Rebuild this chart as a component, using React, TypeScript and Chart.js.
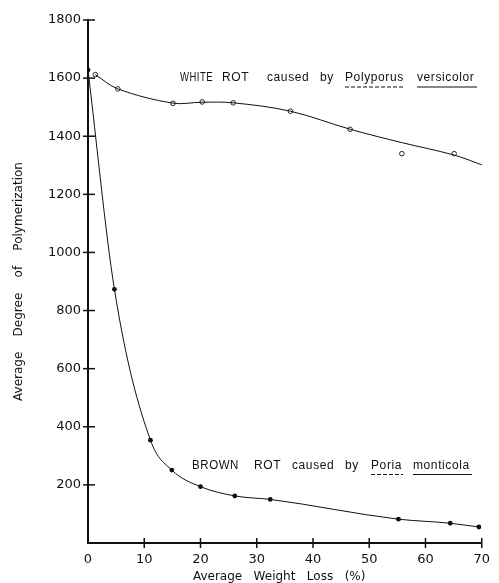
import React, { useEffect, useRef } from "react";
import { Chart, registerables } from "chart.js";

Chart.register(...registerables);

// ---- data ----
const xTickValues = [0, 10, 20, 30, 40, 50, 60, 70];
const yTickValues = [200, 400, 600, 800, 1000, 1200, 1400, 1600, 1800];

// White rot (Polyporus versicolor) - measured points (open circles)
const whiteLossPct = [1.3, 5.3, 15.1, 20.3, 25.8, 36.0, 46.6, 55.8, 65.1];
const whiteDP = [1612, 1563, 1513, 1518, 1515, 1486, 1424, 1340, 1340];

// White rot - fitted curve as drawn in the figure
const whiteCurveLossPct = [1.3, 5.3, 15.1, 20.3, 25.8, 36.0, 46.6, 55.8, 65.1, 70.5];
const whiteCurveDP = [1612, 1563, 1514, 1517, 1515, 1486, 1424, 1378, 1335, 1298];

// Brown rot (Poria monticola) - measured points (filled circles)
const brownLossPct = [0, 4.7, 11.1, 14.9, 20.0, 26.1, 32.4, 55.2, 64.4, 69.5];
const brownDP = [1628, 873, 354, 251, 194, 162, 150, 82, 68, 55];

const whiteLabelWords = ["WHITE", "ROT", "caused", "by", "Polyporus", "versicolor"];
const brownLabelWords = ["BROWN", "ROT", "caused", "by", "Poria", "monticola"];

const xTitle = "Average   Weight   Loss   (%)   ";
const yTitle = "Average    Degree    of    Polymerization";

const toPoints = (xs: number[], ys: number[]) => xs.map((x, i) => ({ x, y: ys[i] }));

const INK = "#111";

const decorPlugin = {
  id: "decor",
  afterDraw(chart: any) {
    const { ctx } = chart;
    const xs = chart.scales.x;
    const ys = chart.scales.y;
    ctx.save();
    ctx.strokeStyle = INK;
    ctx.lineWidth = 1.5;
    // cross ticks on y axis
    const ax = xs.getPixelForValue(0);
    yTickValues.forEach((v) => {
      const py = ys.getPixelForValue(v);
      ctx.beginPath();
      ctx.moveTo(ax - 5, py);
      ctx.lineTo(ax + 7, py);
      ctx.stroke();
    });
    // cross ticks on x axis
    const ay = ys.getPixelForValue(0);
    xTickValues.slice(1).forEach((v) => {
      const px = xs.getPixelForValue(v);
      ctx.beginPath();
      ctx.moveTo(px, ay - 5);
      ctx.lineTo(px, ay + 5);
      ctx.stroke();
    });

    // annotation labels
    ctx.fillStyle = INK;
    ctx.textBaseline = "alphabetic";
    ctx.textAlign = "left";
    ctx.font = "12px 'Liberation Sans', Arial, sans-serif";
    try {
      (ctx as any).letterSpacing = "0.6px";
    } catch (e) {}

    const drawLabel = (
      words: string[],
      starts: number[],
      widths: number[],
      baseline: number
    ) => {
      words.forEach((w, i) => {
        ctx.fillText(w, starts[i], baseline, widths[i]);
      });
      ctx.lineWidth = 1.2;
      // genus: dashed underline
      ctx.setLineDash([4, 2]);
      ctx.beginPath();
      ctx.moveTo(starts[4], baseline + 6);
      ctx.lineTo(starts[4] + widths[4], baseline + 6);
      ctx.stroke();
      // species: solid underline
      ctx.setLineDash([]);
      ctx.beginPath();
      ctx.moveTo(starts[5], baseline + 6);
      ctx.lineTo(starts[5] + widths[5], baseline + 6);
      ctx.stroke();
    };

    drawLabel(
      whiteLabelWords,
      [180, 222, 267, 320, 345, 417],
      [33, 31, 44, 14, 59, 60],
      81
    );
    drawLabel(
      brownLabelWords,
      [192, 254, 292, 345, 371, 413],
      [47, 28, 44, 14, 32, 59],
      468.5
    );
    ctx.restore();
  },
};

export default function App() {
  const canvasRef = useRef<HTMLCanvasElement | null>(null);

  useEffect(() => {
    const canvas = canvasRef.current;
    if (!canvas) return;
    const chart = new Chart(canvas, {
      type: "scatter",
      data: {
        datasets: [
          {
            label: "White rot curve",
            data: toPoints(whiteCurveLossPct, whiteCurveDP),
            showLine: true,
            borderColor: INK,
            borderWidth: 1,
            pointRadius: 0,
            tension: 0.35,
          },
          {
            label: "White rot (Polyporus versicolor)",
            data: toPoints(whiteLossPct, whiteDP),
            showLine: false,
            pointStyle: "circle",
            pointRadius: 2.3,
            pointBorderWidth: 0.9,
            borderColor: INK,
            backgroundColor: "#fff",
          },
          {
            label: "Brown rot (Poria monticola)",
            data: toPoints(brownLossPct, brownDP),
            showLine: true,
            cubicInterpolationMode: "monotone",
            borderColor: INK,
            borderWidth: 1,
            pointStyle: "circle",
            pointRadius: 2.4,
            pointBorderWidth: 0,
            pointBackgroundColor: INK,
            backgroundColor: INK,
          },
        ],
      },
      options: {
        animation: false,
        responsive: false,
        layout: { padding: { top: 20, right: 11, left: 0, bottom: 0 } },
        plugins: {
          legend: { display: false },
          tooltip: { enabled: false },
        },
        scales: {
          x: {
            type: "linear",
            min: 0,
            max: 70,
            afterFit: (s: any) => {
              s.height = 40;
            },
            afterBuildTicks: (s: any) => {
              s.ticks = xTickValues.map((v) => ({ value: v }));
            },
            grid: { display: false, drawTicks: false },
            border: { display: true, color: INK, width: 2 },
            ticks: {
              color: INK,
              padding: 9,
              maxRotation: 0,
              font: { family: "'DejaVu Sans', sans-serif", size: 13 },
            },
            title: {
              display: true,
              text: xTitle,
              color: INK,
              padding: { top: 0, bottom: 0 },
              font: { family: "'DejaVu Sans', sans-serif", size: 12, lineHeight: 1 },
            },
          },
          y: {
            type: "linear",
            min: 0,
            max: 1800,
            afterFit: (s: any) => {
              s.width = 88;
            },
            afterBuildTicks: (s: any) => {
              s.ticks = [0, ...yTickValues].map((v) => ({ value: v }));
            },
            grid: { display: false, drawTicks: false },
            border: { display: true, color: INK, width: 2 },
            ticks: {
              color: INK,
              padding: 7,
              callback: (v: any) => (Number(v) === 0 ? "" : String(v)),
              font: { family: "'DejaVu Sans', sans-serif", size: 13 },
            },
            title: {
              display: true,
              text: yTitle,
              color: INK,
              padding: { top: 13, bottom: 0 },
              font: { family: "'DejaVu Sans', sans-serif", size: 12, lineHeight: 1 },
            },
          },
        },
      },
      plugins: [decorPlugin],
    } as any);
    return () => chart.destroy();
  }, []);

  return (
    <div
      style={{
        position: "fixed",
        left: 0,
        top: 0,
        width: 499,
        height: 583,
        background: "#fff",
      }}
    >
      <canvas ref={canvasRef} width={499} height={583} style={{ display: "block" }} />
    </div>
  );
}
